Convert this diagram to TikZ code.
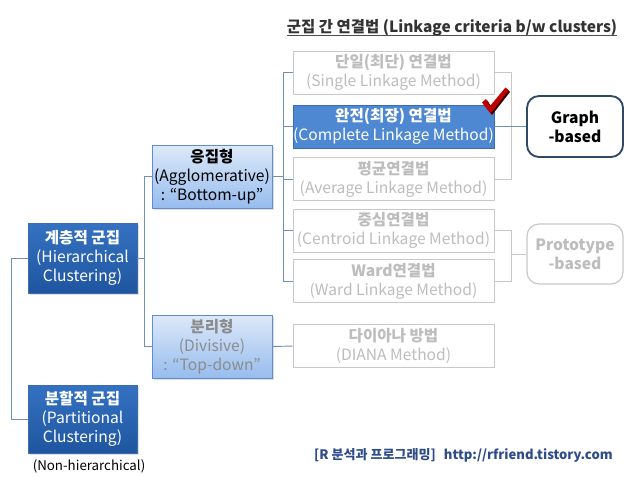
\documentclass[tikz,border=0pt]{standalone}
\usepackage{fontspec}
\setmainfont{Noto Sans CJK KR}
\usetikzlibrary{calc,shadows}
\definecolor{dktop}{HTML}{3472C2}
\definecolor{dkbot}{HTML}{1F559F}
\definecolor{dkborder}{HTML}{3E6CA8}
\definecolor{lttop}{HTML}{DDE9F9}
\definecolor{ltbot}{HTML}{96BCEE}
\definecolor{ltborder}{HTML}{5F8ED0}
\definecolor{midfill}{HTML}{4E87D2}
\definecolor{midborder}{HTML}{3B6CB2}
\definecolor{grayline}{HTML}{C8C8C8}
\definecolor{graytext}{HTML}{BDBDBD}
\definecolor{conn}{HTML}{7090B8}
\definecolor{graphborder}{HTML}{2E4A66}
\definecolor{footer}{HTML}{2E4C8A}
\definecolor{checkred}{HTML}{C00000}
\newcommand{\boxfont}{\fontsize{11.7}{14.4}\selectfont}
\begin{document}
\begin{tikzpicture}[x=0.75pt,y=-0.75pt,
  base/.style={inner sep=0pt, align=center, font=\boxfont},
  darkbox/.style={base, draw=dkborder, top color=dktop, bottom color=dkbot, text=white,
    minimum width=81.75pt, drop shadow={opacity=0.25,shadow xshift=1.5pt,shadow yshift=-1.5pt}},
  lightbox/.style={base, draw=ltborder, top color=lttop, bottom color=ltbot, text=black,
    minimum width=90pt, minimum height=47.25pt, drop shadow={opacity=0.25,shadow xshift=1.5pt,shadow yshift=-1.5pt}},
  graybox/.style={base, draw=grayline, fill=white, text=graytext, minimum width=150.75pt, minimum height=32.25pt},
  selbox/.style={base, draw=midborder, fill=midfill, text=white, minimum width=150.75pt, minimum height=32.25pt},
  roundbox/.style={base, rounded corners=9pt, minimum width=72pt, font=\fontsize{11.7}{14.4}\selectfont\bfseries},
  link/.style={draw=conn, line width=0.7pt},
  glink/.style={draw=grayline, line width=0.7pt}
]
\useasboundingbox (0,0) rectangle (631,476);

% title
\node[base, anchor=base, font=\fontsize{11.6}{13}\selectfont\bfseries, text=black!80] (title) at (452,32)
  {군집 간 연결법 (Linkage criteria b/w clusters)};
\draw[black!70, line width=0.7pt] ($(title.base west)+(0,3)$) -- ($(title.base east)+(0,3)$);

% left column
\node[darkbox, minimum height=52.5pt] (hc) at (82.5,258) {\textbf{계층적 군집}\\(Hierarchical\\Clustering)};
\node[darkbox, minimum height=51pt] (pc) at (82.5,419) {\textbf{분할적 군집}\\(Partitional\\Clustering)};
\node[base, font=\fontsize{10}{11}\selectfont] (nh) at (89,466) {(Non-hierarchical)};

% middle column
\node[lightbox] (ag) at (212,176.5) {\textbf{응집형}\\(Agglomerative)\\: “Bottom-up”};
\node[lightbox, text=black!45] (dv) at (212,346.5) {\textbf{분리형}\\(Divisive)\\: “Top-down”};

% right column
\node[graybox] (single) at (393.5,72.5) {\textbf{단일(최단) 연결법}\\(Single Linkage Method)};
\node[selbox] (complete) at (393.5,126.5) {\textbf{완전(최장) 연결법}\\(Complete Linkage Method)};
\node[graybox] (average) at (393.5,179) {\textbf{평균연결법}\\(Average Linkage Method)};
\node[graybox] (centroid) at (393.5,230.5) {\textbf{중심연결법}\\(Centroid Linkage Method)};
\node[graybox] (ward) at (393.5,281) {\textbf{Ward연결법}\\(Ward Linkage Method)};
\node[graybox] (diana) at (393.5,346) {\textbf{다이아나 방법}\\(DIANA Method)};

% far right
\node[roundbox, draw=graphborder, line width=1.4pt, fill=white, text=black, minimum height=45.75pt] (graph) at (575,126.5) {Graph\\-based};
\node[roundbox, draw=grayline, line width=0.9pt, fill=white, text=graytext, minimum height=45pt] (proto) at (575,254) {Prototype\\-based};

% junction coordinates
\coordinate (j0) at (11,0);
\coordinate (j1) at (144,0);
\coordinate (j2) at (283,0);
\coordinate (j3) at (511,0);

% connectors
\draw[link] (hc.west) -- (hc.west -| j0) |- (pc.west);
\draw[link] (hc.east) -- (hc.east -| j1);
\draw[link] (ag.west) -- (ag.west -| j1) |- (dv.west);
\draw[link] (ag.east) -- (ag.east -| j2);
\draw[link] (single.west) -- (single.west -| j2) |- (ward.west);
\draw[link] (complete.west) -- (complete.west -| j2);
\draw[link] (average.west) -- (average.west -| j2);
\draw[link] (centroid.west) -- (centroid.west -| j2);
\draw[link] (dv.east) -- (diana.west);
\draw[glink] (single.east) -- (single.east -| j3) |- (average.east);
\draw[link] (complete.east) -- (graph.west);
\draw[glink] (centroid.east) -- (centroid.east -| j3) |- (ward.east);
\draw[glink] (proto.west) -- (proto.west -| j3);

% check mark
\fill[black!70!checkred] (483.5,104) -- (487.5,100.5) -- (491.5,107.5) -- (507,89) -- (510,92) -- (492,115) -- cycle;
\fill[checkred] (482,102.5) -- (486,99) -- (490,106) -- (505.5,87.5) -- (508.5,90.5) -- (490.5,113.5) -- cycle;

% footer
\node[base, anchor=base east, font=\fontsize{9.8}{11}\selectfont\bfseries, text=footer] (foot) at (613,459)
  {[R 분석과 프로그래밍]\hspace{6pt}http://rfriend.tistory.com};
\end{tikzpicture}
\end{document}
